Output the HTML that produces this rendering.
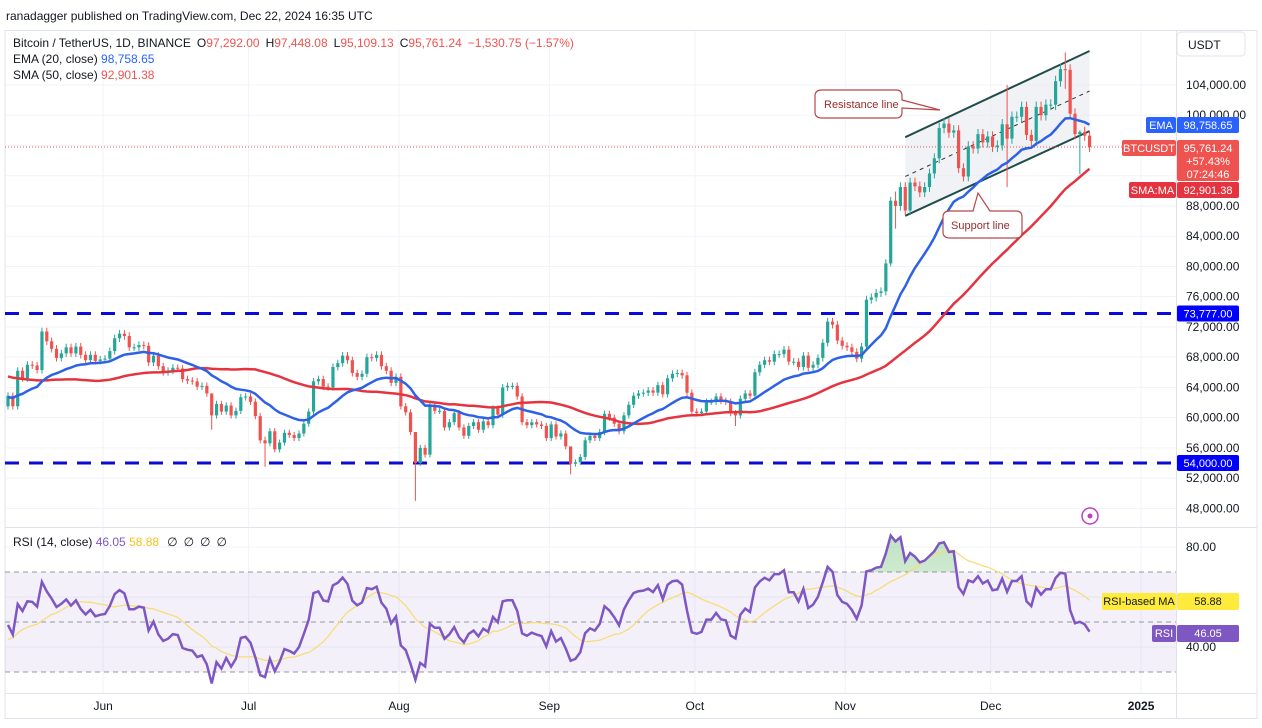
<!DOCTYPE html>
<html><head><meta charset="utf-8">
<style>
html,body{margin:0;padding:0;background:#fff;width:1262px;height:728px;overflow:hidden;font-family:"Liberation Sans",sans-serif}
svg{position:absolute;left:0;top:0}
</style></head>
<body>
<svg id="c" width="1262" height="728" viewBox="0 0 1262 728">
<defs>
<linearGradient id="obg" x1="0" y1="0" x2="0" y2="1"><stop offset="0" stop-color="#4caf50" stop-opacity="0.35"/><stop offset="1" stop-color="#4caf50" stop-opacity="0.03"/></linearGradient>
<clipPath id="obclip"><rect x="5" y="527" width="1171" height="45"/></clipPath>
<clipPath id="mainclip"><rect x="5" y="31" width="1171" height="496"/></clipPath>
</defs>
<text x="6" y="20" font-size="12" fill="#131722">ranadagger published on TradingView.com, Dec 22, 2024 16:35 UTC</text>
<rect x="5" y="30.5" width="1252" height="688" fill="none" stroke="#e0e3eb"/>
<g id="grid"></g>
<rect x="5" y="572" width="1171" height="100" fill="#7e57c2" fill-opacity="0.09"/>
<g id="rsiguides"></g>
<g id="channel"></g>
<g id="levels"></g>
<g id="candles" clip-path="url(#mainclip)"></g>
<g id="mas"></g>
<g id="rsi"></g>
<line x1="5" y1="527.5" x2="1257" y2="527.5" stroke="#e0e3eb"/>
<line x1="5" y1="693.5" x2="1257" y2="693.5" stroke="#e0e3eb"/>
<line x1="1176.5" y1="31" x2="1176.5" y2="718" stroke="#e0e3eb"/>
<g id="axes"></g>
<g font-size="12">
<text x="13" y="47" fill="#131722">Bitcoin / TetherUS, 1D, BINANCE<tspan dx="6">O</tspan><tspan fill="#ef5350">97,292.00</tspan><tspan dx="6">H</tspan><tspan fill="#ef5350">97,448.08</tspan><tspan dx="6">L</tspan><tspan fill="#ef5350">95,109.13</tspan><tspan dx="6">C</tspan><tspan fill="#ef5350">95,761.24</tspan><tspan dx="6" fill="#ef5350">−1,530.75 (−1.57%)</tspan></text>
<text x="13" y="63" fill="#131722">EMA (20, close) <tspan fill="#2962ff">98,758.65</tspan></text>
<text x="13" y="79" fill="#131722">SMA (50, close) <tspan fill="#ef5350">92,901.38</tspan></text>
<text x="13" y="546" fill="#131722">RSI (14, close) <tspan fill="#7e57c2">46.05</tspan> <tspan fill="#f5c518">58.88</tspan><tspan dx="8">∅</tspan><tspan dx="6">∅</tspan><tspan dx="6">∅</tspan><tspan dx="6">∅</tspan></text>
</g>
<g>
<path d="M822,90 H896 Q902,90 902,96 V100 L940,110 L902,108 V112 Q902,118 896,118 H822 Q815,118 815,112 V96 Q815,90 822,90 Z" fill="#fff" stroke="#b5484a" stroke-width="1.2"/>
<text x="824" y="108" font-size="11" fill="#9b2c2c">Resistance line</text>
</g>
<g>
<path d="M950,211 H973 L978,193 L990,211 H1016 Q1022,211 1022,217 V232 Q1022,238 1016,238 H950 Q943,238 943,232 V217 Q943,211 950,211 Z" fill="#fff" stroke="#b5484a" stroke-width="1.2"/>
<text x="951" y="229" font-size="11" fill="#9b2c2c">Support line</text>
</g>
<g>
<rect x="1177" y="32" width="68" height="24" rx="4" fill="#fff" stroke="#e0e3eb"/>
<text x="1188" y="49" font-size="12" fill="#131722">USDT</text>
</g>
<g id="tags"></g>
<g><circle cx="1090" cy="516" r="8" fill="none" stroke="#c040c0" stroke-width="1.5"/><circle cx="1090" cy="516" r="2.5" fill="#c040c0"/></g>
</svg>
<script>
const priorCloses=[70.0,69.9,69.5,70.7,69.9,69.6,71.3,69.7,66.0,65.9,68.5,67.8,68.9,69.4,71.6,69.1,70.6,70.0,67.1,63.9,65.7,63.4,63.8,61.3,63.5,63.8,64.9,64.9,64.9,66.8,66.4,64.3,64.5,63.1,63.8,63.4,60.7,58.3,59.1,62.9,63.9,64.0,63.2,62.3,61.2,63.1,60.8,60.8,61.5];
const closes=[62.9,61.5,66.2,65.2,67.0,66.9,66.3,71.4,70.1,69.1,67.9,68.5,69.3,68.5,69.4,68.3,67.6,68.3,67.5,
67.7,67.8,68.8,70.5,71.1,70.8,69.3,69.3,69.6,69.5,67.3,68.2,66.8,66.0,66.2,66.6,66.5,65.1,64.9,64.8,64.1,64.2,63.2,60.3,61.8,60.8,61.6,60.3,60.9,62.7,
62.8,62.1,60.2,57.0,56.6,58.2,55.8,56.7,58.0,57.7,57.3,57.9,59.2,60.8,64.8,65.1,64.1,64.0,66.7,67.2,68.2,67.6,65.9,65.4,65.8,68.0,67.9,68.3,66.8,66.2,64.6,
65.4,61.5,60.7,58.1,54.0,56.0,55.1,61.7,60.9,60.9,58.7,59.4,60.6,58.7,57.6,58.9,59.4,58.4,59.5,59.0,61.2,60.4,64.0,64.2,64.2,62.8,59.4,59.0,59.4,59.1,58.9,
57.3,59.1,57.5,57.9,56.2,53.9,54.1,54.8,57.0,57.6,57.3,58.1,60.5,60.0,59.2,58.2,60.3,61.7,62.9,63.2,63.3,63.6,63.3,64.3,63.1,65.2,65.8,65.9,65.6,63.3,
60.8,60.6,60.8,62.1,62.1,62.8,62.2,62.1,60.6,60.3,62.5,63.2,62.9,66.0,67.0,67.6,67.4,68.4,68.4,69.0,67.4,67.4,66.7,68.2,66.6,67.0,67.9,69.9,72.7,72.3,70.2,
69.5,69.3,68.7,67.8,69.4,75.6,75.9,76.5,76.7,80.4,88.7,88.0,90.5,87.4,91.1,90.6,89.8,90.5,92.3,94.3,98.3,98.9,97.7,98.0,93.0,91.9,95.9,95.6,97.5,96.4,
97.2,95.8,96.0,98.8,96.9,99.8,99.8,101.1,97.4,96.6,101.1,100.0,101.4,101.4,104.5,106.1,106.0,100.2,97.5,97.8,97.3,95.8];
const wickIdx=[42,53,84,116,150,182,183,206,218,221];
const wickHigh=[62.0,57.5,56.5,55.0,61.0,89.2,89.9,104.0,108.3,98.0];
const wickLow=[58.4,53.5,49.0,52.5,58.9,80.0,85.0,90.5,103.5,92.2];
const priceTicks=[104000,100000,96000,92000,88000,84000,80000,76000,72000,68000,64000,60000,56000,52000,48000];
const rsiTicks=[80,40];
const monthLabels=['Jun','Jul','Aug','Sep','Oct','Nov','Dec','2025'];
const monthIdx=[19,49,80,111,141,172,202,233];
const levelPrices=[73777,54000];
const levelLabels=['73,777.00','54,000.00'];
const chanStart=185, chanEnd=223;
const chanUpper=[97.1,108.5], chanLower=[86.7,97.9];

const NS='http://www.w3.org/2000/svg';
const X=i=>8+i*4.85;
const Y=p=>85+(104-p)*7.56;
const YR=v=>622-(v-50)*2.5;
function el(tag,attrs,parent){const e=document.createElementNS(NS,tag);for(const k in attrs)e.setAttribute(k,attrs[k]);parent.appendChild(e);return e;}
const g=id=>document.getElementById(id);

const grid=g('grid');
priceTicks.forEach(t=>{const l=el('line',{x1:5,x2:1176,y1:Y(t/1000),y2:Y(t/1000),stroke:'#f0f3fa'},grid);});
[80,60,40].forEach(v=>{const l=el('line',{x1:5,x2:1176,y1:YR(v),y2:YR(v),stroke:'#f0f3fa'},grid);});
monthIdx.forEach(i=>{const l=el('line',{x1:X(i)+3,x2:X(i)+3,y1:31,y2:693,stroke:'#f0f3fa'},grid);});
[70,50,30].forEach(v=>{const l=el('line',{x1:5,x2:1176,y1:YR(v),y2:YR(v),stroke:'#9598a1','stroke-dasharray':'5,4'},g('rsiguides'));});

const ch=g('channel');
const cu=[Y(chanUpper[0]),Y(chanUpper[1])], cl=[Y(chanLower[0]),Y(chanLower[1])];
const xs=[X(chanStart),X(chanEnd)];
const poly=el('polygon',{points:`${xs[0]},${cu[0]} ${xs[1]},${cu[1]} ${xs[1]},${cl[1]} ${xs[0]},${cl[0]}`,fill:'#e8eaf0','fill-opacity':0.6},ch);

const up=el('line',{x1:xs[0],y1:cu[0],x2:xs[1],y2:cu[1],stroke:'#1e4d4a','stroke-width':2},ch);

const lo=el('line',{x1:xs[0],y1:cl[0],x2:xs[1],y2:cl[1],stroke:'#1e4d4a','stroke-width':2},ch);

const md=el('line',{x1:xs[0],y1:(cu[0]+cl[0])/2,x2:xs[1],y2:(cu[1]+cl[1])/2,stroke:'#333','stroke-width':1,'stroke-dasharray':'4,4'},ch);


levelPrices.forEach(p=>{const l=el('line',{x1:5,x2:1176,y1:Y(p/1000),y2:Y(p/1000),stroke:'#0b0bd6','stroke-width':3,'stroke-dasharray':'14,10'},g('levels'));});
const cp=el('line',{x1:5,x2:1176,y1:Y(closes[closes.length-1]),y2:Y(closes[closes.length-1]),stroke:'#ef5350','stroke-width':1,'stroke-dasharray':'1,2'},g('levels'));


const cg=g('candles');
closes.forEach((c,i)=>{
  const o=i===0?priorCloses[priorCloses.length-1]:closes[i-1];
  let h=Math.max(o,c)*1.007,lw=Math.min(o,c)*0.993;
  const k=wickIdx.indexOf(i); if(k>=0){h=wickHigh[k];lw=wickLow[k];}
  const col=c>=o?'#26a69a':'#ef5350';
  const w=el('line',{x1:X(i),x2:X(i),y1:Y(h),y2:Y(lw),stroke:col,'stroke-width':1},cg);
  
  const top=Y(Math.max(o,c)),bot=Y(Math.min(o,c));
  const b=el('rect',{x:X(i)-1.6,y:top,width:3.2,height:Math.max(1,bot-top),fill:col},cg);
  
});

const all=priorCloses.concat(closes), off=priorCloses.length;
const ema=[];let e=all.slice(0,20).reduce((a,b)=>a+b)/20;
all.forEach((v,i)=>{if(i>=20)e=v*2/21+e*19/21;ema.push(i>=19?e:null);});
const sma=all.map((v,i)=>i<49?null:all.slice(i-49,i+1).reduce((a,b)=>a+b)/50);
const rsiv=[];let ag=0,al=0;
for(let i=1;i<all.length;i++){const d=all[i]-all[i-1],gn=Math.max(d,0),ls=Math.max(-d,0);
  if(i<=14){ag+=gn/14;al+=ls/14;}else{ag=(ag*13+gn)/14;al=(al*13+ls)/14;}
  rsiv[i]=i>=14?(al===0?100:100-100/(1+ag/al)):null;}
const rsiMa=rsiv.map((v,i)=>i<27?null:rsiv.slice(i-13,i+1).reduce((a,b)=>a+b)/14);
function path(arr,fy){let d='';closes.forEach((_,i)=>{const v=arr[i+off];if(v==null)return;d+=(d?'L':'M')+X(i).toFixed(1)+','+fy(v).toFixed(1);});return d;}
const mg=g('mas');
const sp=el('path',{d:path(sma,Y),fill:'none',stroke:'#e5343f','stroke-width':2.5},mg);

const ep=el('path',{d:path(ema,Y),fill:'none',stroke:'#2d62e6','stroke-width':2.5},mg);

const rg=g('rsi');
const rd=path(rsiv,YR);
const ob=el('path',{d:rd+`L${X(closes.length-1)},572L${X(0)},572Z`,fill:'url(#obg)','clip-path':'url(#obclip)'},rg);

const mp=el('path',{d:path(rsiMa,YR),fill:'none',stroke:'#f7dd7a','stroke-width':1.3},rg);

const rp=el('path',{d:rd,fill:'none',stroke:'#7e57c2','stroke-width':2.5},rg);


const ax=g('axes');
priceTicks.forEach(t=>{const s=el('text',{x:1186,y:Y(t/1000)+4,'font-size':12,fill:'#131722'},ax);s.textContent=t.toLocaleString('en-US')+'.00';});
rsiTicks.forEach(v=>{const s=el('text',{x:1186,y:YR(v)+4,'font-size':12,fill:'#131722'},ax);s.textContent=v.toFixed(2);});
monthLabels.forEach((m,i)=>{const s=el('text',{x:X(monthIdx[i])+3,y:710,'font-size':12,fill:'#131722','text-anchor':'middle','font-weight':m==='2025'?'bold':'normal'},ax);s.textContent=m;});

const tg=g('tags');
function tag(x,y,w,h,fill,lines,name,tc){const r=el('rect',{x:x,y:y,width:w,height:h,rx:2,fill:fill},tg);
  lines.forEach((t,j)=>{const s=el('text',{x:x+w/2,y:y+12+j*13,'font-size':11,fill:tc||'#fff','text-anchor':'middle'},tg);s.textContent=t;});}
levelPrices.forEach((p,i)=>tag(1177,Y(p/1000)-8,62,16,'#0000ff',[levelLabels[i]],'level-price-tag'));
tag(1146,117,30,16,'#2962ff',['EMA'],'ema-name-tag');
tag(1177,117,62,16,'#2962ff',['98,758.65'],'ema-price-tag');
tag(1122,140,54,16,'#ef5350',['BTCUSDT'],'symbol-name-tag');
tag(1177,140,62,41,'#ef5350',['95,761.24','+57.43%','07:24:46'],'last-price-tag');
tag(1129,182,47,16,'#e5343f',['SMA:MA'],'sma-name-tag');
tag(1177,182,62,16,'#e5343f',['92,901.38'],'sma-price-tag');
tag(1102,593,74,17,'#ffeb3b',['RSI-based MA'],'rsi-ma-name-tag','#131722');
tag(1177,593,62,17,'#ffeb3b',['58.88'],'rsi-ma-value-tag','#131722');
tag(1152,625,24,17,'#7e57c2',['RSI'],'rsi-name-tag');
tag(1177,625,62,17,'#7e57c2',['46.05'],'rsi-value-tag');
</script>
</body></html>
